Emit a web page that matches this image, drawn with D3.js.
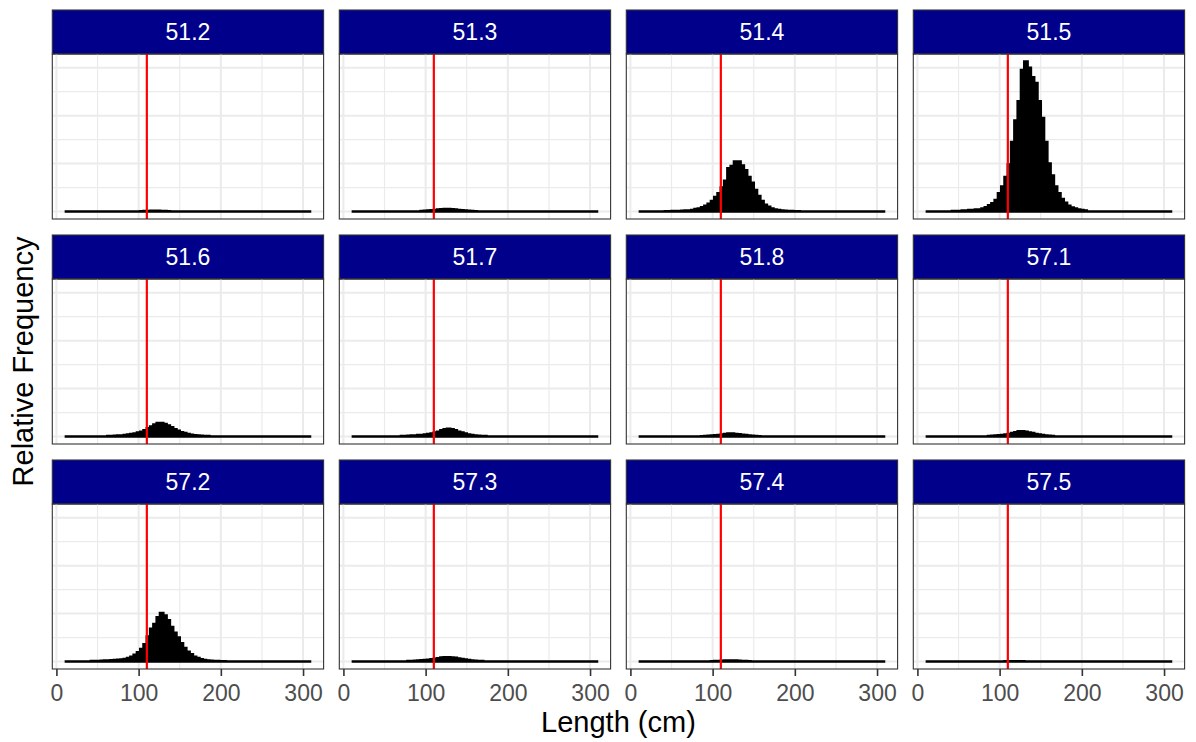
<!DOCTYPE html>
<html>
<head>
<meta charset="utf-8">
<script src="https://d3js.org/d3.v7.min.js"></script>
<style>
  body { margin: 0; background: #fff; }
  text { font-family: "Liberation Sans", Arial, Helvetica, sans-serif; }
</style>
</head>
<body>
<script>
// facet labels (areas), in panel order
var areas = ["51.2", "51.3", "51.4", "51.5", "51.6", "51.7", "51.8", "57.1", "57.2", "57.3", "57.4", "57.5"];

// histogram: 4 cm bins from 10 to 310 cm; values are relative frequency in %
var binWidth = 4, lenMin = 10, lenMax = 310;
var cutLength = 110;
var xTicks = [0, 100, 200, 300];
var xMinor = [50, 150, 250];

// first bin start (cm) of each series below, same order as areas
var binStart = [102, 94, 42, 42, 62, 70, 86, 86, 42, 78, 98, 106];

var f512 = [0.005, 0.01, 0.01, 0.015, 0.015, 0.015, 0.01, 0.01, 0.005];
var f513 = [0.01, 0.015, 0.02, 0.025, 0.03, 0.04, 0.045, 0.05, 0.05, 0.045, 0.04, 0.03, 0.025, 0.02, 0.015, 0.01, 0.005];
var f514 = [0.005, 0.005, 0.01, 0.01, 0.01, 0.015, 0.02, 0.02, 0.03, 0.05, 0.06, 0.09, 0.12, 0.16, 0.22, 0.30, 0.38, 0.50, 0.64, 0.90,
            0.95, 1.04, 1.04, 0.96, 0.86, 0.72, 0.60, 0.45, 0.32, 0.22, 0.14, 0.10, 0.06, 0.04, 0.03, 0.02, 0.015, 0.01, 0.01, 0.005, 0.005];
var f515 = [0.01, 0.01, 0.01, 0.02, 0.02, 0.03, 0.03, 0.04, 0.04, 0.06, 0.09, 0.13, 0.17, 0.24, 0.38, 0.52, 0.72, 0.98, 1.45, 1.90,
            2.30, 2.95, 3.13, 3.00, 2.80, 2.68, 2.30, 1.95, 1.45, 1.00, 0.75, 0.52, 0.38, 0.26, 0.18, 0.12, 0.08, 0.06, 0.04, 0.03, 0.02];
var f516 = [0.01, 0.01, 0.015, 0.02, 0.02, 0.03, 0.04, 0.05, 0.06, 0.08, 0.10, 0.13, 0.17, 0.21, 0.25, 0.28, 0.28, 0.26, 0.23, 0.19,
            0.15, 0.12, 0.09, 0.07, 0.05, 0.035, 0.025, 0.02, 0.015, 0.01, 0.01];
var f517 = [0.01, 0.01, 0.015, 0.02, 0.02, 0.03, 0.03, 0.04, 0.05, 0.06, 0.08, 0.10, 0.13, 0.15, 0.16, 0.15, 0.13, 0.10, 0.08, 0.06,
            0.04, 0.03, 0.02, 0.015, 0.01, 0.01];
var f518 = [0.005, 0.01, 0.015, 0.02, 0.025, 0.03, 0.04, 0.05, 0.06, 0.06, 0.05, 0.045, 0.035, 0.03, 0.02, 0.015, 0.01, 0.005];
var f571 = [0.01, 0.015, 0.02, 0.025, 0.03, 0.04, 0.05, 0.07, 0.09, 0.11, 0.11, 0.10, 0.08, 0.07, 0.05, 0.04, 0.03, 0.02, 0.015, 0.01];
var f572 = [0.01, 0.01, 0.01, 0.015, 0.02, 0.02, 0.025, 0.03, 0.035, 0.04, 0.05, 0.07, 0.10, 0.14, 0.19, 0.26, 0.36, 0.52, 0.68, 0.78,
            0.92, 1.01, 0.96, 0.86, 0.72, 0.60, 0.50, 0.38, 0.28, 0.20, 0.15, 0.10, 0.07, 0.045, 0.03, 0.02, 0.015, 0.01, 0.01, 0.005, 0.005];
var f573 = [0.01, 0.01, 0.015, 0.02, 0.025, 0.03, 0.035, 0.045, 0.055, 0.065, 0.08, 0.09, 0.09, 0.085, 0.075, 0.06, 0.05, 0.04, 0.03, 0.02,
            0.015, 0.01, 0.01];
var f574 = [0.005, 0.01, 0.01, 0.015, 0.02, 0.02, 0.02, 0.02, 0.015, 0.01, 0.01, 0.005];
var f575 = [0.003, 0.005, 0.005, 0.005, 0.005, 0.003];

var areaFreq = [f512, f513, f514, f515, f516, f517, f518, f571, f572, f573, f574, f575];

// layout
var W = 1196, H = 742;
var marginLeft = 52.3, marginTop = 10;
var pw = 271.3, colStep = 287;
var stripH = 44, ph = 165, rowStep = 225;
var nCol = 4;

var svg = d3.select("body").append("svg")
    .attr("width", W)
    .attr("height", H);

// build the bins for each area (bins outside a series are zero)
var panels = areas.map(function (a, i) {
    var bins = [];
    for (var s = lenMin; s < lenMax; s += binWidth) {
        var k = Math.round((s - binStart[i]) / binWidth);
        var v = (k >= 0 && k < areaFreq[i].length) ? areaFreq[i][k] : 0;
        bins.push({x0: s, x1: s + binWidth, value: v});
    }
    return {area: a, bins: bins, col: i % nCol, row: Math.floor(i / nCol)};
});

var maxVal = d3.max(areaFreq, function (a) { return d3.max(a); });

var x = d3.scaleLinear().domain([-5, 325]).range([0, pw]);
var y = d3.scaleLinear().domain([-0.05 * maxVal, 1.05 * maxVal]).range([ph, 0]);
var yMajor = [0, 1, 2, 3], yMinor = [0.5, 1.5, 2.5];

// one stepped outline per panel, so neighbouring bars do not leave seams
var histArea = d3.area()
    .curve(d3.curveStepAfter)
    .x(function (d) { return x(d.x); })
    .y0(y(0))
    .y1(function (d) { return y(d.value); });

var nRow = d3.max(panels, function (p) { return p.row; }) + 1;

panels.forEach(function (p) {
    var gx = marginLeft + p.col * colStep;
    var gy = marginTop + p.row * rowStep;

    // strip
    var strip = svg.append("g").attr("transform", "translate(" + gx + "," + gy + ")");
    strip.append("rect")
        .attr("width", pw).attr("height", stripH)
        .attr("fill", "#00008B")
        .attr("stroke", "#333333").attr("stroke-width", 1.1);
    strip.append("text")
        .attr("x", pw / 2)
        .attr("y", stripH / 2 + 0.716 * 23 / 2)
        .attr("text-anchor", "middle")
        .style("font-size", "23px")
        .attr("fill", "#ffffff")
        .text(p.area);

    var g = svg.append("g").attr("transform", "translate(" + gx + "," + (gy + stripH) + ")");

    // grid
    g.selectAll(".gy-min").data(yMinor).enter().append("line")
        .attr("x1", 0).attr("x2", pw)
        .attr("y1", function (d) { return y(d); }).attr("y2", function (d) { return y(d); })
        .attr("stroke", "#EBEBEB").attr("stroke-width", 1.2);
    g.selectAll(".gx-min").data(xMinor).enter().append("line")
        .attr("y1", 0).attr("y2", ph)
        .attr("x1", function (d) { return x(d); }).attr("x2", function (d) { return x(d); })
        .attr("stroke", "#EBEBEB").attr("stroke-width", 1.2);
    g.selectAll(".gy-maj").data(yMajor).enter().append("line")
        .attr("x1", 0).attr("x2", pw)
        .attr("y1", function (d) { return y(d); }).attr("y2", function (d) { return y(d); })
        .attr("stroke", "#EBEBEB").attr("stroke-width", 2);
    g.selectAll(".gx-maj").data(xTicks).enter().append("line")
        .attr("y1", 0).attr("y2", ph)
        .attr("x1", function (d) { return x(d); }).attr("x2", function (d) { return x(d); })
        .attr("stroke", "#EBEBEB").attr("stroke-width", 2);

    // histogram
    var pts = p.bins.map(function (d) { return {x: d.x0, value: d.value}; });
    pts.push({x: lenMax, value: p.bins[p.bins.length - 1].value});
    g.append("path")
        .datum(pts)
        .attr("d", histArea)
        .attr("fill", "#000")
        .attr("stroke", "#000")
        .attr("stroke-width", 2.6)
        .attr("stroke-linejoin", "miter");

    // cut-off line
    g.append("line")
        .attr("x1", x(cutLength)).attr("x2", x(cutLength))
        .attr("y1", 0).attr("y2", ph)
        .attr("stroke", "#FF0000").attr("stroke-width", 2.2);

    // panel border
    g.append("rect")
        .attr("width", pw).attr("height", ph)
        .attr("fill", "none")
        .attr("stroke", "#333333").attr("stroke-width", 1.1);

    // x axis on bottom row
    if (p.row === nRow - 1) {
        var ax = g.append("g")
            .attr("transform", "translate(0," + ph + ")")
            .call(d3.axisBottom(x).tickValues(xTicks).tickSize(7).tickPadding(8.5));
        ax.select(".domain").remove();
        ax.selectAll(".tick line").attr("stroke", "#333333").attr("stroke-width", 1.6);
        ax.selectAll(".tick text")
            .attr("fill", "#4D4D4D")
            .style("font-size", "23px")
            .style("font-family", "'Liberation Sans', Arial, sans-serif");
    }
});

// axis titles
svg.append("text")
    .attr("x", marginLeft + (3 * colStep + pw) / 2)
    .attr("y", 731.5)
    .attr("text-anchor", "middle")
    .style("font-size", "29px")
    .attr("fill", "#000")
    .text("Length (cm)");

svg.append("text")
    .attr("transform", "translate(32.5," + (marginTop + stripH + (2 * rowStep + ph) / 2) + ") rotate(-90)")
    .attr("text-anchor", "middle")
    .style("font-size", "29px")
    .attr("fill", "#000")
    .text("Relative Frequency");
</script>
</body>
</html>
